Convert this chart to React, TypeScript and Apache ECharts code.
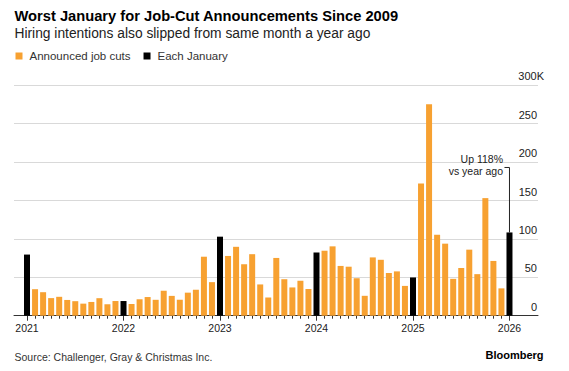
import React, { useEffect, useRef } from "react";
import * as echarts from "echarts";

// ---- Data (thousands of announced job cuts, monthly) ----
const years = ["2021", "2022", "2023", "2024", "2025", "2026"];
const monthNames = ["Jan", "Feb", "Mar", "Apr", "May", "Jun", "Jul", "Aug", "Sep", "Oct", "Nov", "Dec"];
const jobCutsK = [
  79.6, 34.5, 30.6, 22.9, 24.6, 20.5, 18.9, 15.7, 17.9, 22.8, 14.9, 19.1,
  19.1, 15.2, 21.4, 24.3, 20.7, 32.5, 25.8, 20.8, 30.0, 33.8, 76.8, 43.7,
  102.9, 77.8, 89.7, 67.0, 80.1, 40.7, 23.7, 75.2, 47.5, 36.8, 45.5, 34.8,
  82.3, 84.6, 90.3, 64.8, 63.8, 48.8, 25.9, 75.9, 72.8, 55.6, 57.7, 38.8,
  49.8, 172.0, 275.2, 105.4, 93.8, 48.0, 62.1, 86.0, 54.1, 153.1, 71.3, 35.6,
  108.4,
];
const categories = years.flatMap((y) => monthNames.map((m) => `${m} ${y}`)).slice(0, jobCutsK.length);
const yTicks = [0, 50, 100, 150, 200, 250, 300];
const legendNames = ["Announced job cuts", "Each January"];
const titleText = "Worst January for Job-Cut Announcements Since 2009";
const subtitleText = "Hiring intentions also slipped from same month a year ago";
const sourceText = "Source: Challenger, Gray & Christmas Inc.";
const brandText = "Bloomberg";
const annotationText = "Up 118%\nvs year ago";
const annotationLevelK = 193;

const ORANGE = "#f7a131";
const BLACK = "#000000";
const FONT = "'Liberation Sans', Arial, Helvetica, sans-serif";

export default function App() {
  const ref = useRef<HTMLDivElement>(null);

  useEffect(() => {
    if (!ref.current) return;
    const chart = echarts.init(ref.current, null, { renderer: "svg" });

    const isJan = (i: number) => categories[i].startsWith("Jan");
    const orangeData = jobCutsK.map((v, i) => (isJan(i) ? null : v));
    const blackData = jobCutsK.map((v, i) => (isJan(i) ? v : null));

    const yMin = yTicks[0];
    const yMax = yTicks[yTicks.length - 1];
    const yInterval = yTicks[1] - yTicks[0];

    chart.setOption({
      animation: false,
      backgroundColor: "#ffffff",
      textStyle: { fontFamily: FONT },
      legend: {
        left: 15.5,
        top: 49,
        padding: 0,
        itemWidth: 7,
        itemHeight: 7,
        itemGap: 13,
        icon: "rect",
        data: legendNames,
        textStyle: { fontSize: 11.5, color: "#333", fontFamily: FONT, lineHeight: 14, padding: [0, 0, 0, 2] },
      },
      grid: [
        { left: 23, right: 55.5, top: 85.3, bottom: 55.3, containLabel: false },
        { left: 14, right: 31, top: 85.3, bottom: 55.3, containLabel: false },
      ],
      xAxis: [
        {
          type: "category",
          gridIndex: 0,
          position: "bottom",
          data: categories,
          axisLine: { show: false },
          axisTick: { show: true, interval: 0, alignWithLabel: true, length: 3, lineStyle: { color: "#333", width: 1 } },
          axisLabel: {
            interval: 11,
            margin: 7,
            fontSize: 10.5,
            color: "#222",
            fontFamily: FONT,
            formatter: (v: string) => v.split(" ")[1],
          },
          splitLine: { show: false },
        },
        {
          type: "category",
          gridIndex: 0,
          position: "bottom",
          data: categories,
          axisLine: { show: false },
          axisTick: { show: true, interval: 11, alignWithLabel: true, length: 5, lineStyle: { color: "#333", width: 1 } },
          axisLabel: { show: false },
          splitLine: { show: false },
        },
        {
          type: "value",
          gridIndex: 1,
          min: 0,
          max: 1,
          axisLine: { show: true, onZero: false, lineStyle: { color: "#333", width: 1 } },
          axisTick: { show: false },
          axisLabel: { show: false },
          splitLine: { show: false },
        },
      ],
      yAxis: [
        { type: "value", gridIndex: 0, min: yMin, max: yMax, interval: yInterval, show: false },
        {
          type: "value",
          gridIndex: 1,
          position: "right",
          min: yMin,
          max: yMax,
          interval: yInterval,
          axisLine: { show: false },
          axisTick: { show: false },
          splitLine: { show: true, lineStyle: { color: "#d9d9d9", width: 1 } },
          axisLabel: {
            margin: 6,
            align: "right",
            verticalAlign: "bottom",
            padding: [0, 0, 3, 0],
            fontSize: 11,
            color: "#222",
            fontFamily: FONT,
            formatter: (v: number) => (v === yMax ? `{k|${v}K}` : `{n|${v}}`),
            rich: {
              n: { fontSize: 11, color: "#222", fontFamily: FONT, lineHeight: 12, padding: [0, 7, 0, 0] },
              k: { fontSize: 11, color: "#222", fontFamily: FONT, lineHeight: 12 },
            },
          },
        },
      ],
      series: [
        {
          name: legendNames[0],
          type: "bar",
          xAxisIndex: 0,
          yAxisIndex: 0,
          data: orangeData,
          barWidth: 6,
          barGap: "-100%",
          itemStyle: { color: ORANGE },
        },
        {
          name: legendNames[1],
          type: "bar",
          xAxisIndex: 0,
          yAxisIndex: 0,
          data: blackData,
          barWidth: 6,
          barGap: "-100%",
          itemStyle: { color: BLACK },
        },
      ],
    });

    const lastIdx = jobCutsK.length - 1;
    const barTop = chart.convertToPixel({ xAxisIndex: 0, yAxisIndex: 0 }, [lastIdx, jobCutsK[lastIdx]]) as number[];
    const bracketTop = chart.convertToPixel({ xAxisIndex: 0, yAxisIndex: 0 }, [lastIdx, annotationLevelK]) as number[];
    const bx = barTop[0];

    const textEl = (text: string, x: number, y: number, font: string, fill: string, align = "left") => ({
      type: "text",
      x,
      y,
      silent: true,
      style: { text, font, fill, textAlign: align, align, textVerticalAlign: "middle", verticalAlign: "middle" },
    });

    chart.setOption({
      graphic: [
        textEl(titleText, 14.5, 15.5, `bold 14.7px ${FONT}`, "#000"),
        textEl(subtitleText, 14.5, 33, `13.8px ${FONT}`, "#222"),
        textEl(sourceText, 14.5, 356.5, `10.5px ${FONT}`, "#333"),
        textEl(brandText, 543.5, 355, `bold 11px ${FONT}`, "#000", "right"),
        {
          type: "polyline",
          silent: true,
          shape: {
            points: [
              [bx - 5, bracketTop[1]],
              [bx, bracketTop[1]],
              [bx, barTop[1]],
            ],
          },
          style: { stroke: "#222", lineWidth: 1, fill: "none" },
          z: 10,
        },
        {
          type: "text",
          x: bx - 6.5,
          y: bracketTop[1] - 2.5,
          silent: true,
          style: {
            text: annotationText,
            font: `10.5px ${FONT}`,
            fill: "#222",
            textAlign: "right",
            align: "right",
            textVerticalAlign: "middle",
            verticalAlign: "middle",
            lineHeight: 11.7,
          },
          z: 10,
        },
      ],
    });

    return () => {
      chart.dispose();
    };
  }, []);

  return (
    <div
      ref={ref}
      style={{ position: "absolute", left: 0, top: 0, width: 569, height: 371, background: "#fff" }}
    />
  );
}
